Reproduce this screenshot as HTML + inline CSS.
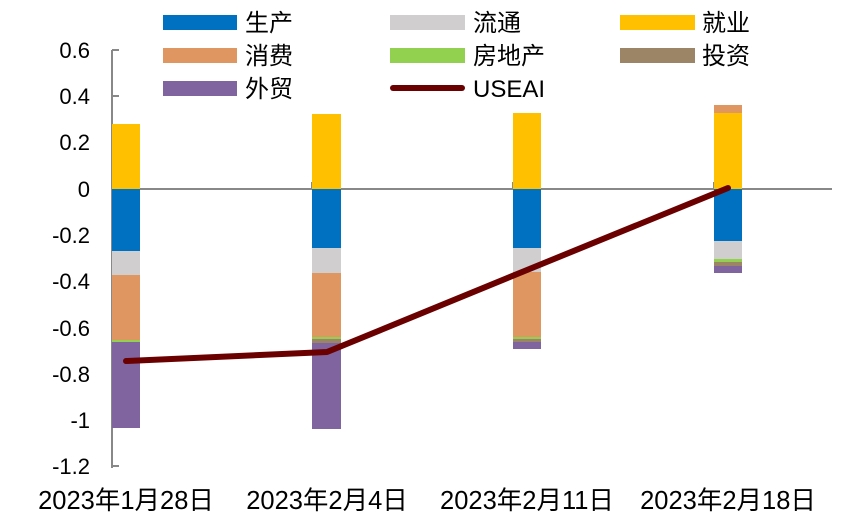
<!DOCTYPE html><html><head><meta charset="utf-8"><style>body{margin:0;background:#fff}</style></head><body>
<svg width="842" height="517" xmlns="http://www.w3.org/2000/svg" font-family="Liberation Sans, Noto Sans CJK SC, sans-serif" font-size="22" fill="#000">
<g stroke="#888" stroke-width="2">
<line x1="112" y1="50" x2="112" y2="468"/>
<line x1="112" y1="189" x2="832" y2="189"/>
<line x1="112" y1="50" x2="119" y2="50"/><line x1="112" y1="96" x2="119" y2="96"/><line x1="112" y1="142" x2="119" y2="142"/><line x1="112" y1="235" x2="119" y2="235"/><line x1="112" y1="281" x2="119" y2="281"/><line x1="112" y1="328" x2="119" y2="328"/><line x1="112" y1="374" x2="119" y2="374"/><line x1="112" y1="420" x2="119" y2="420"/><line x1="112" y1="466" x2="119" y2="466"/>
<line x1="312" y1="182" x2="312" y2="189"/><line x1="513" y1="182" x2="513" y2="189"/><line x1="714" y1="182" x2="714" y2="189"/>
</g>
<g text-anchor="end">
<text x="90" y="58">0.6</text><text x="90" y="104">0.4</text><text x="90" y="150">0.2</text><text x="90" y="197">0</text><text x="90" y="243">-0.2</text><text x="90" y="289">-0.4</text><text x="90" y="336">-0.6</text><text x="90" y="382">-0.8</text><text x="90" y="428">-1</text><text x="90" y="474">-1.2</text>
</g>
<g>
<rect x="112" y="124" width="28" height="65" fill="#FFC000"/><rect x="112" y="189" width="28" height="62" fill="#0070C0"/><rect x="112" y="251" width="28" height="24" fill="#D0CECE"/><rect x="112" y="275" width="28" height="65" fill="#DF9660"/><rect x="112" y="340" width="28" height="2" fill="#92D050"/><rect x="112" y="342" width="28" height="86" fill="#8064A0"/>
<rect x="312" y="114" width="29" height="75" fill="#FFC000"/><rect x="312" y="189" width="29" height="59" fill="#0070C0"/><rect x="312" y="248" width="29" height="25" fill="#D0CECE"/><rect x="312" y="273" width="29" height="64" fill="#DF9660"/><rect x="312" y="337" width="29" height="2" fill="#92D050"/><rect x="312" y="339" width="29" height="4" fill="#9C8466"/><rect x="312" y="343" width="29" height="86" fill="#8064A0"/>
<rect x="513" y="113" width="28" height="76" fill="#FFC000"/><rect x="513" y="189" width="28" height="59" fill="#0070C0"/><rect x="513" y="248" width="28" height="24" fill="#D0CECE"/><rect x="513" y="272" width="28" height="65" fill="#DF9660"/><rect x="513" y="337" width="28" height="2" fill="#92D050"/><rect x="513" y="339" width="28" height="3" fill="#9C8466"/><rect x="513" y="342" width="28" height="7" fill="#8064A0"/>
<rect x="714" y="105" width="28" height="8" fill="#DF9660"/><rect x="714" y="113" width="28" height="76" fill="#FFC000"/><rect x="714" y="189" width="28" height="52" fill="#0070C0"/><rect x="714" y="241" width="28" height="18" fill="#D0CECE"/><rect x="714" y="259" width="28" height="3" fill="#92D050"/><rect x="714" y="262" width="28" height="4" fill="#9C8466"/><rect x="714" y="266" width="28" height="7" fill="#8064A0"/>
</g>
<polyline points="126,361 327,352 527,270 728,188" fill="none" stroke="#6B0000" stroke-width="6" stroke-linecap="round" stroke-linejoin="round"/>
<g text-anchor="middle" font-size="25.5">
<text x="126" y="509">2023年1月28日</text><text x="327" y="509">2023年2月4日</text><text x="527" y="509">2023年2月11日</text><text x="728" y="509">2023年2月18日</text>
</g>
<g font-size="24">
<rect x="163" y="15" width="74" height="15" fill="#0070C0"/><text x="245" y="31">生产</text>
<rect x="390" y="15" width="75" height="15" fill="#D0CECE"/><text x="473" y="31">流通</text>
<rect x="620" y="15" width="75" height="15" fill="#FFC000"/><text x="702" y="31">就业</text>
<rect x="163" y="48" width="74" height="15" fill="#DF9660"/><text x="245" y="64">消费</text>
<rect x="390" y="48" width="75" height="15" fill="#92D050"/><text x="473" y="64">房地产</text>
<rect x="620" y="48" width="75" height="15" fill="#9C8466"/><text x="702" y="64">投资</text>
<rect x="163" y="81" width="74" height="15" fill="#8064A0"/><text x="245" y="97">外贸</text>
<line x1="393" y1="88" x2="462" y2="88" stroke="#6B0000" stroke-width="6" stroke-linecap="round"/><text x="473" y="97">USEAI</text>
</g>
</svg>
</body></html>
